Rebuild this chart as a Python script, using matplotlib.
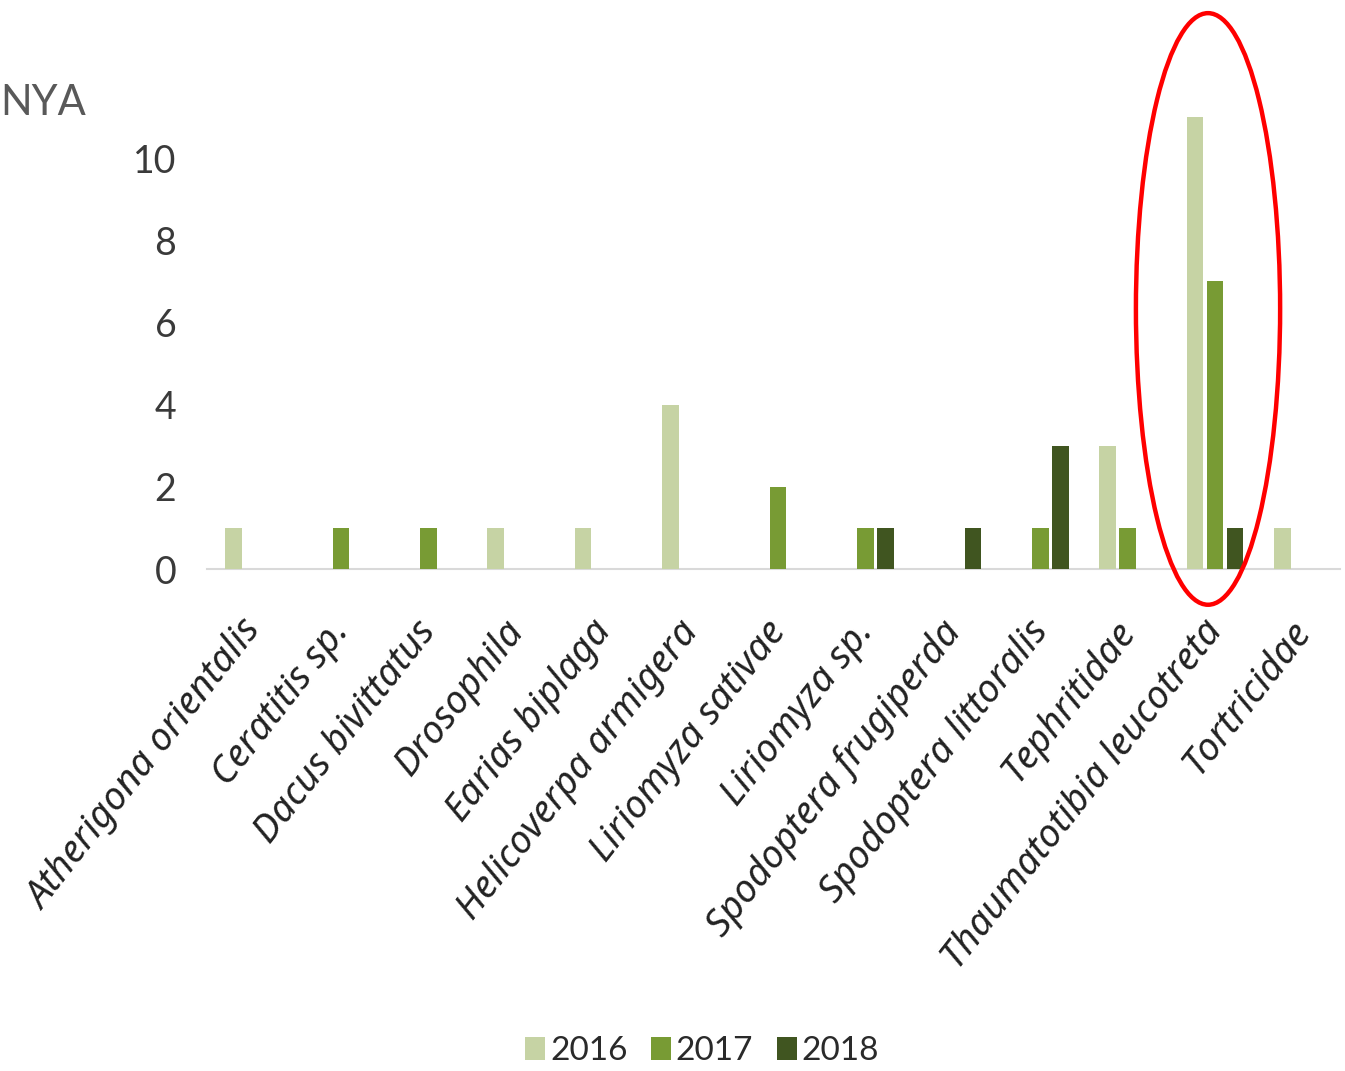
import numpy as np
import matplotlib.pyplot as plt
import matplotlib.transforms as mtransforms
from matplotlib.patches import Ellipse

categories = [
    "Atherigona orientalis", "Ceratitis sp.", "Dacus bivittatus", "Drosophila",
    "Earias biplaga", "Helicoverpa armigera", "Liriomyza sativae", "Liriomyza sp.",
    "Spodoptera frugiperda", "Spodoptera littoralis", "Tephritidae",
    "Thaumatotibia leucotreta", "Tortricidae",
]
years = ["2016", "2017", "2018"]
v2016 = [1, 0, 0, 1, 1, 4, 0, 0, 0, 0, 3, 11, 1]
v2017 = [0, 1, 1, 0, 0, 0, 2, 1, 0, 1, 1, 7, 0]
v2018 = [0, 0, 0, 0, 0, 0, 0, 1, 1, 3, 0, 1, 0]
colors = ["#c6d3a4", "#789b34", "#405520"]
yticks = [0, 2, 4, 6, 8, 10]

fig = plt.figure(figsize=(13.45, 10.71), dpi=100)
ax = fig.add_axes([207 / 1345, 1 - 569 / 1071, 1133 / 1345, 493 / 1071])

x = np.arange(len(categories))
step = 0.23
for i, (vals, c) in enumerate(zip([v2016, v2017, v2018], colors)):
    h = np.array(vals, dtype=float)
    h[h == 0] = np.nan  # empty slots draw nothing
    ax.bar(x + (i - 1) * step, h, width=0.19, color=c, label=years[i], zorder=3)

ax.set_xlim(-0.533, 12.43)
ax.set_ylim(0, 12)
ax.set_yticks(yticks)
for s in ["top", "right", "left"]:
    ax.spines[s].set_visible(False)
ax.spines["bottom"].set_color("#d9d9d9")
ax.spines["bottom"].set_linewidth(1.5)
ax.tick_params(axis="y", length=0, pad=22, labelsize=27, labelcolor="#3a3a3a")
ax.tick_params(axis="x", length=0, pad=32)
for t in ax.get_yticklabels():
    t.set_family("Lato")

ax.set_xticks(x)
ax.set_xticklabels(categories, rotation=52, ha="right", va="top", rotation_mode="anchor",
                   fontsize=27.5, style="italic", family="Noto Sans", color="#222222")
shift = mtransforms.ScaledTranslation(-14 / 100, 0, fig.dpi_scale_trans)
for t in ax.get_xticklabels():
    t.set_transform(t.get_transform() + shift)

# highlight ellipse around Thaumatotibia leucotreta
ax.add_patch(Ellipse((10.92, 6.33), 1.65, 14.4, fill=False, edgecolor="red",
                     linewidth=3.2, clip_on=False, zorder=5))

fig.text(0, 1 - 103 / 1071, "NYA", ha="left", va="center", fontsize=30,
         color="#595959", family="Lato")

leg = fig.legend(loc="center", bbox_to_anchor=(702 / 1345, 1 - 1051 / 1071), ncol=3,
                 frameon=False, handlelength=0.6, handleheight=0.7, handletextpad=0.15,
                 columnspacing=0.7, prop={"family": "Lato", "size": 24})
for t in leg.get_texts():
    t.set_color("#2a2a2a")

fig.savefig("out.png", dpi=100)
